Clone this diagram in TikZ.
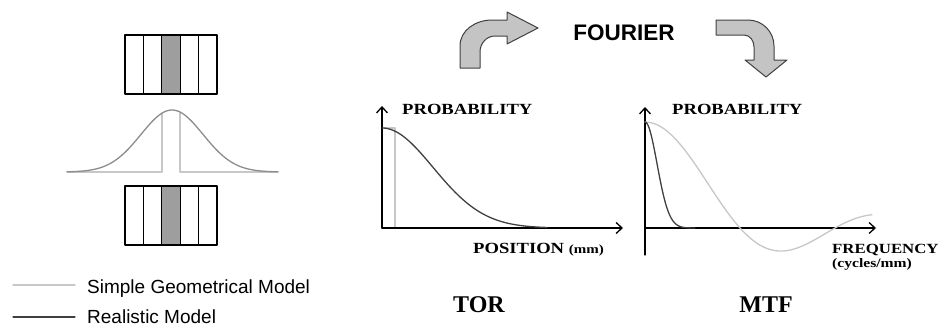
\documentclass[tikz,border=0pt]{standalone}
\usepackage{fontspec}
\usetikzlibrary{arrows.meta}
\setmainfont{Liberation Serif}
\newfontfamily\sansfont{Liberation Sans}
\newfontfamily\widefont[FakeStretch=1.2]{Liberation Serif}
\definecolor{simplec}{gray}{0.78}
\definecolor{realc}{gray}{0.25}
\definecolor{gaussc}{gray}{0.55}
\definecolor{stripec}{gray}{0.62}
\definecolor{arrowc}{gray}{0.77}
\tikzset{
  simple/.style={draw=simplec, line width=1.3pt},
  real/.style={draw=realc, line width=1.3pt},
  axis/.style={-{Straight Barb[length=6pt, width=11pt]}, line width=1.3pt},
  blockarrow/.style={fill=arrowc, draw=black!75, line width=1pt, line join=round},
  lbl/.style={font=\widefont\bfseries\fontsize{15.5}{17}\selectfont, inner sep=0pt},
  ttl/.style={font=\bfseries\fontsize{24}{28}\selectfont, inner sep=0pt},
  leg/.style={font=\sansfont\fontsize{19}{22}\selectfont, inner sep=0pt, anchor=base west}
}
\begin{document}
\begin{tikzpicture}[x=1pt, y=-1pt, line join=round, line cap=round]
	\useasboundingbox (0,0) rectangle (939,327);
	% apertures
	\foreach \yy in {35,186}{
		\fill[stripec] (161.8,\yy) rectangle (180.2,\yy+59);
		\foreach \i in {0,...,4}
			\draw[line width=1.3pt] (125+18.4*\i,\yy) rectangle (143.4+18.4*\i,\yy+59);
	}
	% spread function
	\draw[simple] (67,172) -- (162,172) -- (162,113) (180,113) -- (180,172) -- (278,172);
	\draw[draw=gaussc, line width=1.3pt] plot[domain=-105:106, samples=90] ({172+\x}, {172-62*exp(-0.5*(\x/31)^2)});
	% fourier arrows
	\draw[blockarrow] (460,68) -- (460,46) to[out=90,in=180] (492,20) -- (507,20) -- (507,12)
		-- (538,28) -- (507,44) -- (507,36) -- (495,36) to[out=180,in=90] (480,52) -- (480,68) -- cycle;
	\draw[blockarrow] (716,20) -- (748,20) to[out=0,in=90] (774,46) -- (774,60) -- (787,60)
		-- (766,77) -- (745,60) -- (754,60) -- (754,47) to[out=90,in=0] (744,35) -- (716,35) -- cycle;
	\node[font=\sansfont\bfseries\fontsize{22.5}{26}\selectfont, inner sep=0pt] (fourier) at (624,33) {FOURIER};
	% TOR
	\coordinate (torO) at (382,228);
	\coordinate (torY) at (382,106);
	\coordinate (torX) at (623,228);
	\draw[simple] (382,128) -- (395,128) -- (395,228);
	\draw[axis] (torO) -- (torY);
	\draw[axis] (torO) -- (torX);
	\draw[real] plot[domain=0:165, samples=80] ({382+\x}, {228-100*exp(-0.5*(\x/51)^2)});
	\node[lbl, anchor=base west] (torprob) at (402,114) {PROBABILITY};
	\node[lbl, anchor=base west] (torpos) at (473,253) {POSITION {\fontsize{12.5}{14}\selectfont(mm)}};
	\node[ttl, anchor=base] (tor) at (479,312) {TOR};
	% MTF
	\coordinate (mtfO) at (645,228);
	\coordinate (mtfB) at (645,255);
	\coordinate (mtfY) at (645,107);
	\coordinate (mtfX) at (876,228);
	\draw[axis] (mtfB) -- (mtfY);
	\draw[axis] (mtfO) -- (mtfX);
	\draw[simple] (645,122) -- plot[domain=1:227, samples=100] ({645+\x}, {228-106*sin(\x*1.894737)*30.239/\x});
	\draw[real] plot[domain=0:50, samples=50] ({645+\x}, {228-106*exp(-(\x/17)^2)});
	\node[lbl, anchor=base west] (mtfprob) at (672,114) {PROBABILITY};
	\node[lbl, anchor=base west, font=\widefont\bfseries\fontsize{14}{16}\selectfont] (mtffreq) at (832,253) {FREQUENCY};
	\node[lbl, anchor=base west, font=\widefont\bfseries\fontsize{13}{15}\selectfont] (mtfunit) at (832,267) {(cycles/mm)};
	\node[ttl, anchor=base] (mtf) at (766,312) {MTF};
	% legend
	\coordinate (legA) at (13,285);
	\coordinate (legB) at (75,285);
	\coordinate (legC) at (13,317);
	\coordinate (legD) at (75,317);
	\draw[simple] (legA) -- (legB);
	\draw[real] (legC) -- (legD);
	\node[leg] (legsimple) at (87,293) {Simple Geometrical Model};
	\node[leg] (legreal) at (87,323.5) {Realistic Model};
\end{tikzpicture}
\end{document}
